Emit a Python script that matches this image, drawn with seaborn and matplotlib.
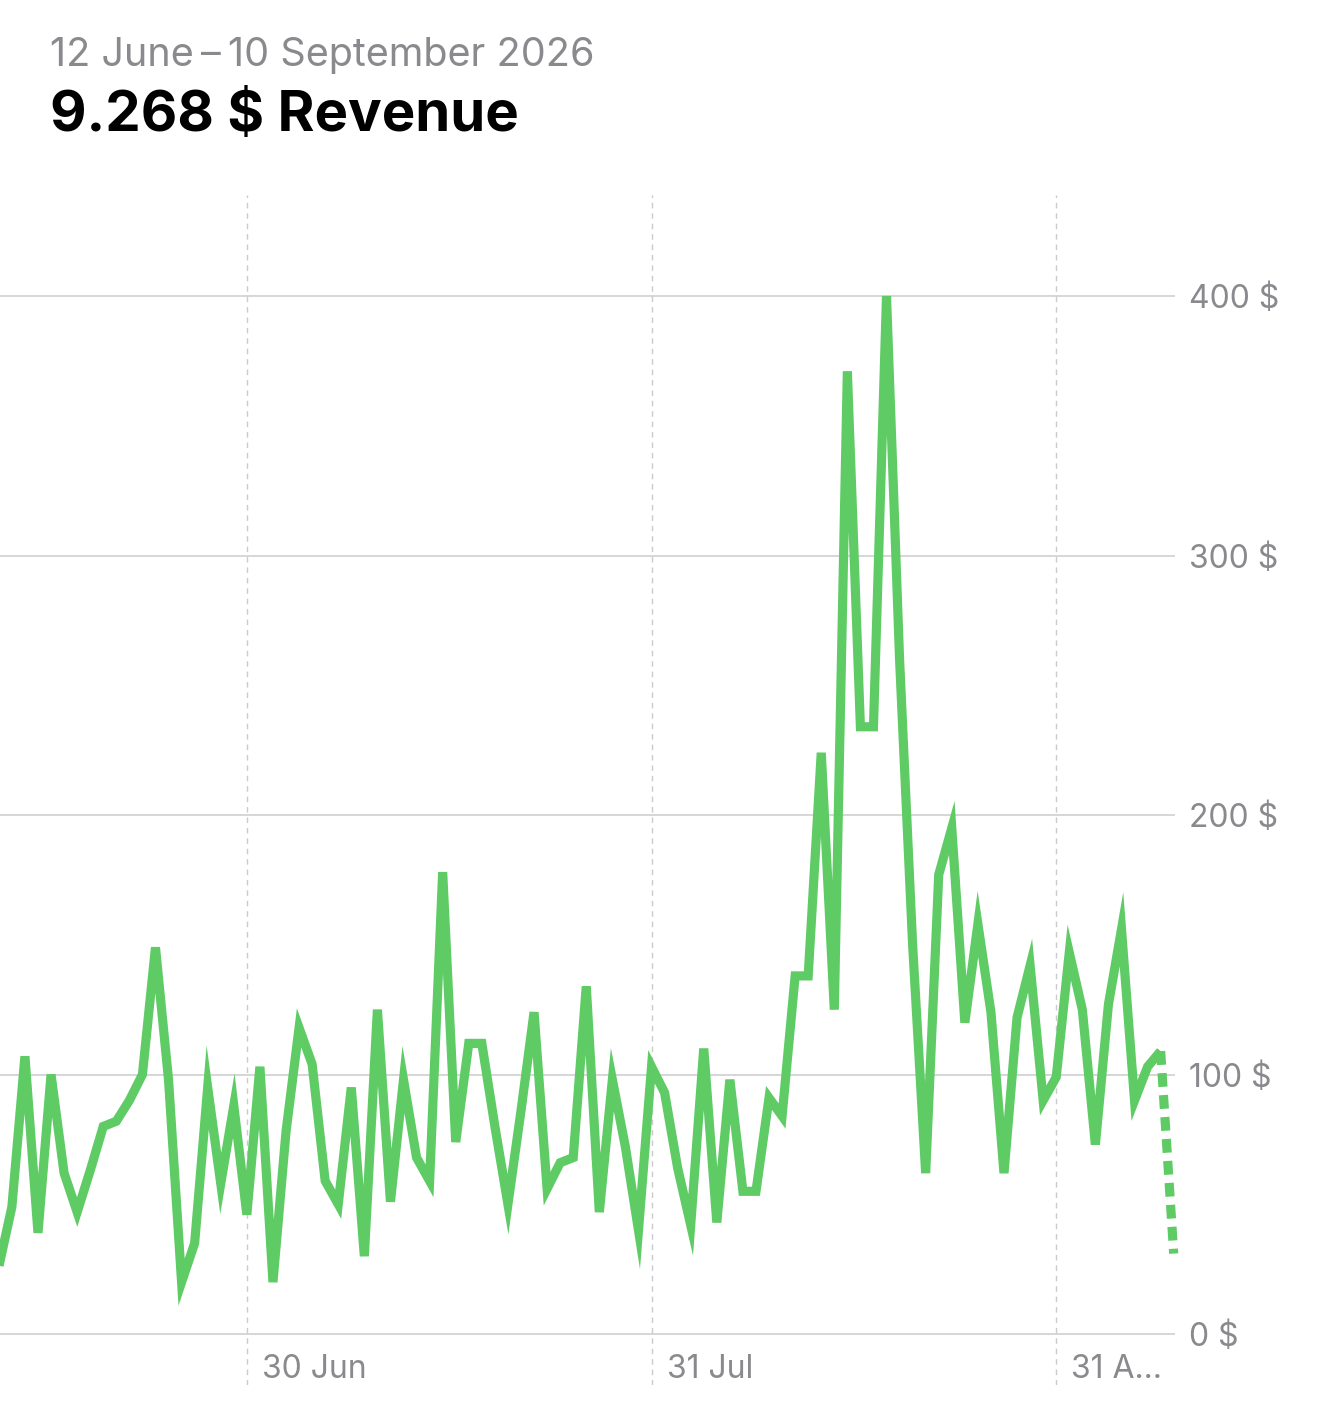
import matplotlib
matplotlib.use("Agg")
import matplotlib.pyplot as plt
import matplotlib.transforms as mtransforms
import numpy as np
import pandas as pd
import seaborn as sns

# daily revenue in $
dates = pd.date_range("2026-06-11", "2026-09-09", freq="D")
revenue = [
    # June 11-30
    26, 49, 107, 39, 100, 62, 47, 63, 80, 82,
    90, 100, 149, 98, 20, 35, 95, 58, 88, 46,
    # July
    103, 20, 78, 118, 104, 59, 50, 95, 30, 125,
    51, 98, 68, 59, 178, 74, 112, 112, 80, 50,
    86, 124, 56, 66, 68, 134, 47, 98, 72, 40, 103,
    # August
    93, 64, 42, 110, 43, 98, 55, 55, 91, 84,
    138, 138, 224, 125, 371, 234, 234, 400, 260, 150,
    62, 177, 195, 120, 158, 124, 62, 122, 142, 90, 99,
    # September 1-9 (last day still incomplete)
    147, 125, 73, 127, 156, 90, 103, 109, 31,
]
y_ticks = [0, 100, 200, 300, 400]
y_tick_labels = [f"{v} $" for v in y_ticks]
x_ticks = pd.to_datetime(["2026-06-30", "2026-07-31", "2026-08-31"])
x_tick_labels = ["30 Jun", "31 Jul", "31 A…"]
period_text = "12 June\u2009–\u200910 September 2026"
title_text = "9.268 $ Revenue"

df = pd.DataFrame({"date": dates, "revenue": revenue})

sns.set_theme(style="white")
plt.rcParams["font.family"] = ["Inter", "DejaVu Sans"]

GREEN = "#5ECB65"
GREY = "#8A8A8E"
GRID = "#CBCBCD"

fig = plt.figure(figsize=(13.2, 14.28), dpi=100)
ax = fig.add_axes([0.0, 0.0301, 0.8902, 0.8333])

# solid line for finished days, dotted for the running one
sns.lineplot(data=df.iloc[:-1], x="date", y="revenue", ax=ax, color=GREEN,
             linewidth=6.6, solid_joinstyle="miter", solid_capstyle="butt",
             clip_on=False)
sns.lineplot(data=df.iloc[-2:], x="date", y="revenue", ax=ax, color=GREEN,
             linewidth=6.6, linestyle=(0, (1.5, 0.9)), dash_capstyle="butt",
             clip_on=False)

ax.set_xlim(pd.Timestamp("2026-06-11 02:10"), pd.Timestamp("2026-09-09 02:30"))
ax.set_ylim(-19.65, 438.9)

ax.set_yticks(y_ticks)
ax.set_yticklabels(y_tick_labels)
ax.set_xticks(x_ticks)
ax.set_xticklabels(x_tick_labels)

ax.yaxis.tick_right()
ax.tick_params(axis="y", length=0, pad=10, labelsize=23, labelcolor=GREY)
ax.tick_params(axis="x", length=0, pad=-5, labelsize=23, labelcolor=GREY)

offset = mtransforms.ScaledTranslation(0.15, 0, fig.dpi_scale_trans)
for lab in ax.get_xticklabels():
    lab.set_horizontalalignment("left")
    lab.set_verticalalignment("baseline")
    lab.set_transform(lab.get_transform() + offset)

ax.grid(axis="y", color=GRID, linewidth=1.1, linestyle="-")
ax.grid(axis="x", color=GRID, linewidth=1.0, linestyle=(0, (4, 3.5)))
ax.set_axisbelow(True)
sns.despine(ax=ax, left=True, bottom=True, right=True, top=True)
ax.set_xlabel("")
ax.set_ylabel("")

fig.text(50 / 1320, 1 - 66 / 1428, period_text, fontsize=28.5, color=GREY,
         va="baseline", ha="left")
fig.text(50 / 1320, 1 - 131 / 1428, title_text, fontsize=40.5, color="black",
         fontweight="bold", va="baseline", ha="left")

fig.savefig("out.png", dpi=100, facecolor="white")
